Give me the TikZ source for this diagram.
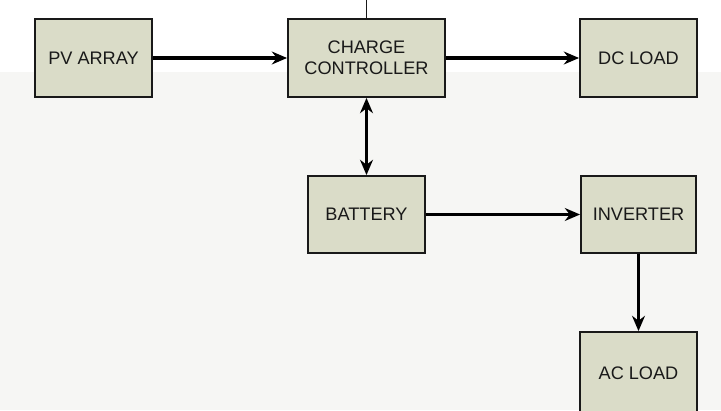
\documentclass[tikz,border=0pt]{standalone}
\usepackage{fontspec}
\setsansfont{Liberation Sans}
\usetikzlibrary{arrows.meta, positioning}

\definecolor{boxfill}{RGB}{218,220,200}
\definecolor{bandgray}{RGB}{246,246,244}

\tikzset{
  block/.style={draw=black!90, line width=1.6pt, fill=boxfill, align=center,
    inner sep=0pt, font=\sffamily\fontsize{15.5}{18}\selectfont, text=black!90},
  link/.style={line width=3.4pt, -{Stealth[length=13pt,width=11pt]}},
}

\begin{document}
\begin{tikzpicture}[x=0.03cm, y=-0.03cm, >=Stealth]
				\clip (0,0) rectangle (721,410);
				\fill[white] (0,0) rectangle (721,410);
				\fill[bandgray] (0,72) rectangle (721,410);
				
				\node[block, minimum width=117*0.03cm, minimum height=78*0.03cm] (pv) at (93.5,58) {PV ARRAY};
				\node[block, minimum width=157*0.03cm, minimum height=78*0.03cm] (cc) at (366.5,58) {CHARGE\\CONTROLLER};
				\node[block, minimum width=117*0.03cm, minimum height=78*0.03cm] (dc) at (638.5,58) {DC LOAD};
				\node[block, minimum width=117*0.03cm, minimum height=77*0.03cm] (bat) at (366.5,214.5) {BATTERY};
				\node[block, minimum width=115*0.03cm, minimum height=77*0.03cm] (inv) at (638.5,214.5) {INVERTER};
				\node[block, minimum width=117*0.03cm, minimum height=82*0.03cm] (ac) at (638.5,373) {AC LOAD};
				
				\coordinate (top) at (366.5,0);
				\draw[line width=1.6pt, black!90] (cc.north) -- (top);
				
				\draw[link] (pv) -- (cc);
				\draw[link] (cc) -- (dc);
				\draw[link, {Stealth[length=13pt,width=11pt]}-{Stealth[length=13pt,width=11pt]}] (cc) -- (bat);
				\draw[link] (bat) -- (inv);
				\draw[link] (inv) -- (ac);
			\end{tikzpicture}
\end{document}
